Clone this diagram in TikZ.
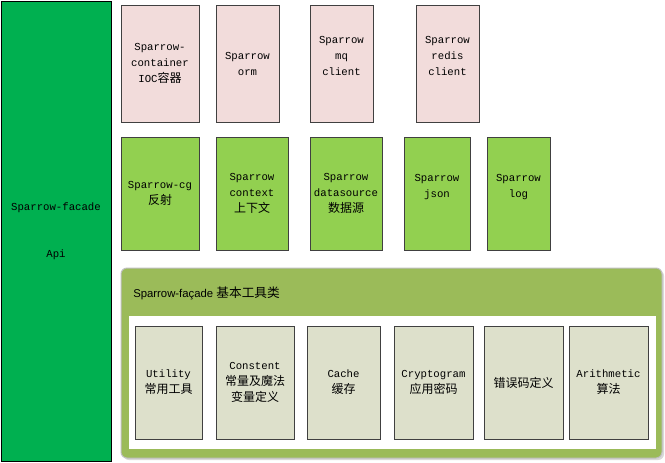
\documentclass[tikz,border=0pt]{standalone}
\usepackage{fontspec}
\setmainfont{Liberation Sans}
\setmonofont{Liberation Mono}
\newfontfamily\cjk{Noto Sans CJK SC}
\newcommand{\zh}[1]{{\cjk\fontsize{9}{12}\selectfont #1}}
\definecolor{apigreen}{HTML}{00B050}
\definecolor{modpink}{HTML}{F2DCDB}
\definecolor{modgreen}{HTML}{92D050}
\definecolor{panelolive}{HTML}{9BBB59}
\definecolor{toolgrey}{HTML}{DDE0CB}
\definecolor{boxline}{HTML}{404040}

\begin{document}
\begin{tikzpicture}[x=0.75pt,y=-0.75pt,
  box/.style={draw=boxline,line width=0.75pt,inner sep=0pt,outer sep=0pt,
    anchor=north west,align=center,font=\ttfamily\fontsize{8}{12}\selectfont},
  pinkbox/.style={box,fill=modpink,minimum height=87.75pt},
  greenbox/.style={box,fill=modgreen,minimum height=84.75pt},
  toolbox/.style={box,fill=toolgrey,minimum height=84.75pt}]
  \useasboundingbox[fill=white] (0,0) rectangle (665,462);
  % api column
  \node[box,draw=black,fill=apigreen,minimum width=82.5pt,minimum height=345pt]
    (api) at (1,1) {Sparrow-facade\\[23pt]Api};
  % top row
  \node[pinkbox,minimum width=58.5pt] (ioc) at (121,5) {Sparrow-\\container\\IOC\zh{容器}};
  \node[pinkbox,minimum width=47.25pt] (orm) at (216,5) {Sparrow\\orm};
  \node[pinkbox,minimum width=47.25pt] (mq) at (310,5) {Sparrow\\mq\\client\\\mbox{}};
  \node[pinkbox,minimum width=47.25pt] (redis) at (416,5) {Sparrow\\redis\\client\\\mbox{}};
  % second row
  \node[greenbox,minimum width=58.5pt] (cg) at (121,137) {Sparrow-cg\\\zh{反射}};
  \node[greenbox,minimum width=54pt] (ctx) at (216,137) {Sparrow\\context\\\zh{上下文}};
  \node[greenbox,minimum width=54pt] (ds) at (310,137) {Sparrow\\datasource\\\zh{数据源}};
  \node[greenbox,minimum width=49.5pt] (json) at (404,137) {Sparrow\\json\\\mbox{}};
  \node[greenbox,minimum width=47.25pt] (log) at (487,137) {Sparrow\\log\\\mbox{}};
  % facade tools panel
  \fill[black!15,rounded corners=4.5pt] (123,270) rectangle (664,460);
  \draw[black!25,fill=panelolive,line width=0.75pt,rounded corners=4.5pt] (121,268) rectangle (662,458);
  \node[anchor=base west,inner sep=0pt,font=\fontsize{8.5}{10}\selectfont]
    (title) at (133,297) {Sparrow-façade {\cjk\fontsize{9.5}{10}\selectfont 基本工具类}};
  \fill[white] (129,316) rectangle (656,449);
  \node[toolbox,minimum width=50.25pt] (util) at (135,326) {Utility\\\zh{常用工具}};
  \node[toolbox,minimum width=58.5pt] (const) at (216,326) {Constent\\\zh{常量及魔法}\\\zh{变量定义}};
  \node[toolbox,minimum width=54.75pt] (cache) at (307,326) {Cache\\\zh{缓存}};
  \node[toolbox,minimum width=59.25pt] (crypt) at (394,326) {Cryptogram\\\zh{应用密码}};
  \node[toolbox,minimum width=59.25pt] (err) at (484,326) {\zh{错误码定义}};
  \node[toolbox,minimum width=59.25pt] (arith) at (569,326) {Arithmetic\\\zh{算法}};
\end{tikzpicture}
\end{document}
